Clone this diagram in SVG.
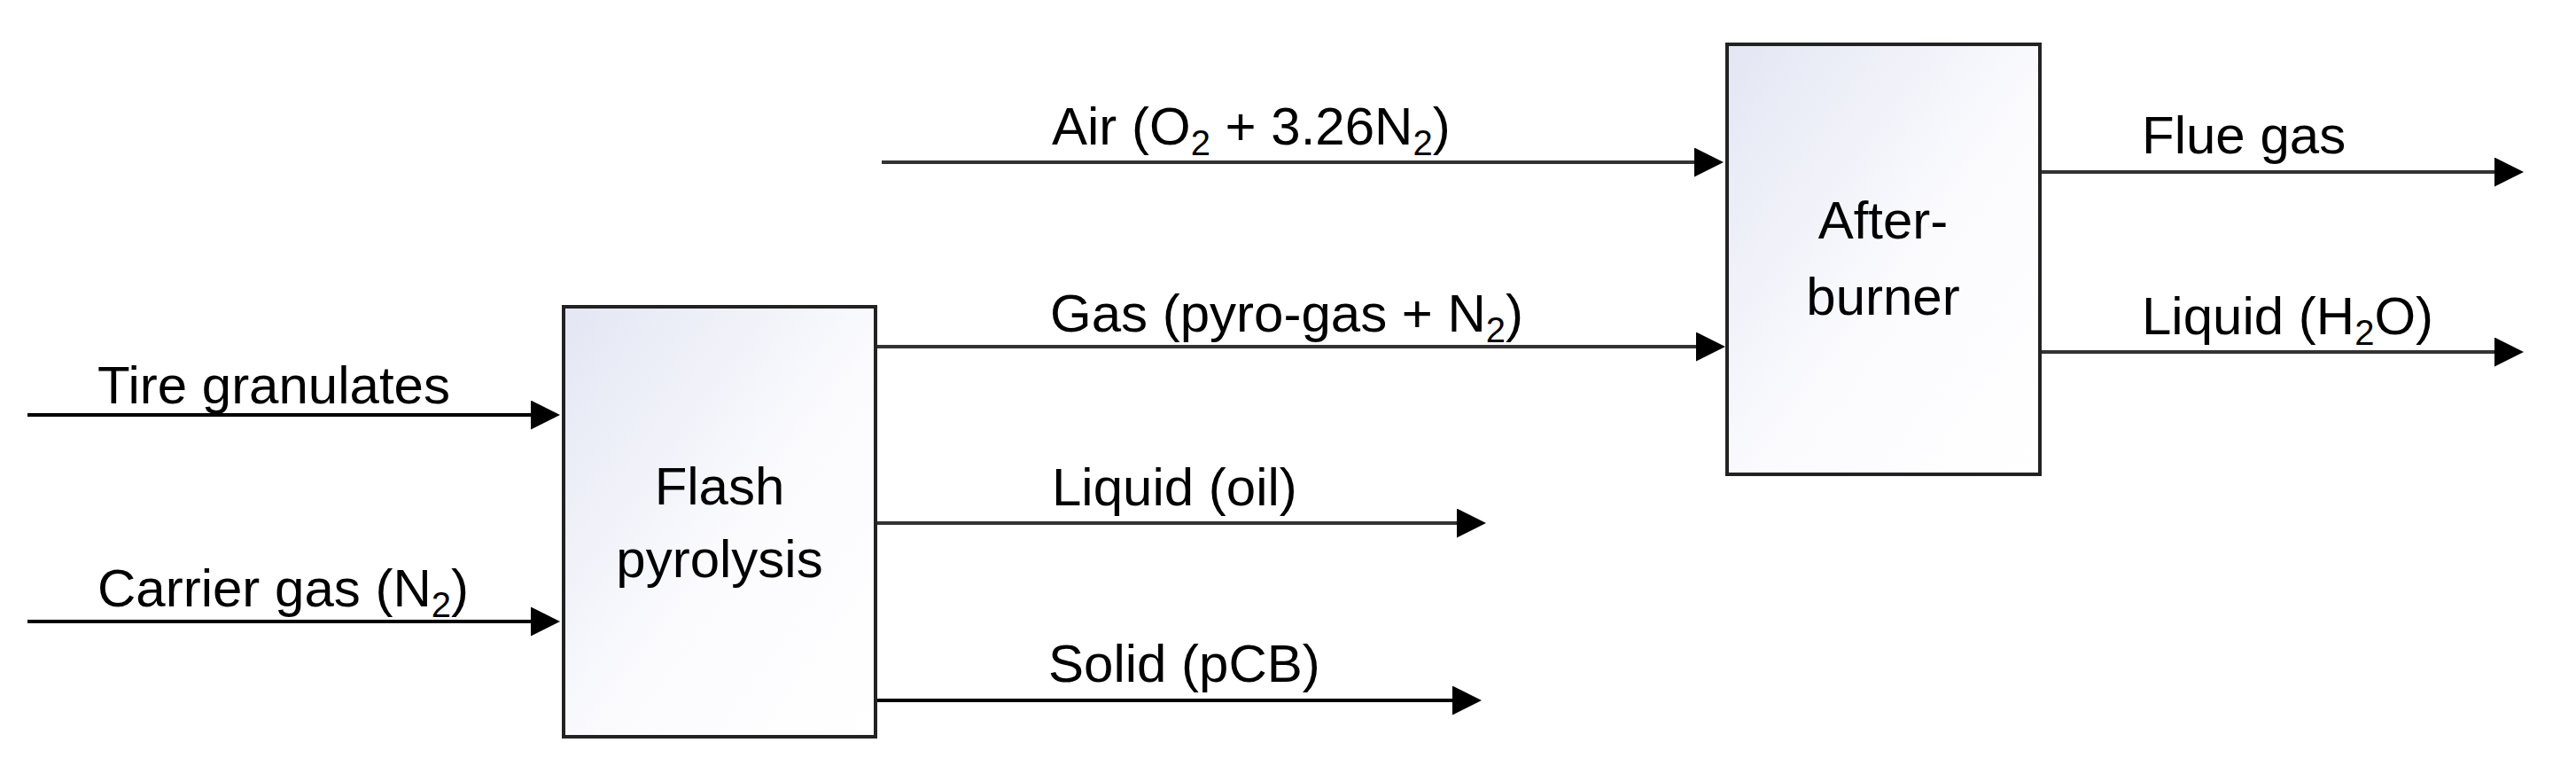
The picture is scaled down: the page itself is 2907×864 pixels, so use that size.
<svg xmlns="http://www.w3.org/2000/svg" width="2907" height="864" viewBox="0 0 2907 864">
  <style>
    .lbl { font-family: "Liberation Sans", Arial, sans-serif; font-size: 60px; fill: #000; }
    .mid { text-anchor: middle; }
    .sub { font-size: 40px; }
    .box { stroke: #222; stroke-width: 4; fill: url(#boxfill); }
    .flow { fill: none; stroke: #333; stroke-width: 4; marker-end: url(#arrow); }
    .flowk { fill: none; stroke: #000; stroke-width: 4; marker-end: url(#arrow); }
  </style>
  <defs>
    <linearGradient id="boxfill" x1="0" y1="0" x2="1" y2="1">
      <stop offset="0" stop-color="#e3e6f3"/>
      <stop offset="0.55" stop-color="#fbfbfe"/>
      <stop offset="1" stop-color="#ffffff"/>
    </linearGradient>
    <marker id="arrow" markerUnits="userSpaceOnUse" viewBox="0 0 33 33" refX="23" refY="16.5" markerWidth="33" markerHeight="33" orient="auto">
      <path d="M0,0 L33,16.5 L0,33 Z" fill="#000"/>
    </marker>
  </defs>
  <rect width="2907" height="864" fill="#fff"/>

  <g id="connectors">
    <line class="flowk" x1="31" y1="468" x2="622" y2="468"/>
    <line class="flowk" x1="31" y1="701" x2="622" y2="701"/>
    <line class="flow" x1="995" y1="183" x2="1935" y2="183"/>
    <line class="flow" x1="988" y1="391" x2="1937" y2="391"/>
    <line class="flow" x1="988" y1="590" x2="1667" y2="590"/>
    <line class="flowk" x1="988" y1="790" x2="1662" y2="790"/>
    <line class="flow" x1="2302" y1="194" x2="2838" y2="194"/>
    <line class="flow" x1="2302" y1="397" x2="2838" y2="397"/>
  </g>

  <g id="connector-labels">
    <text class="lbl" x="110" y="455">Tire granulates</text>
    <text class="lbl" x="110" y="684">Carrier gas (N<tspan class="sub" dy="12">2</tspan><tspan dy="-12">)</tspan></text>
    <text class="lbl" x="1187" y="163">Air (O<tspan class="sub" dy="12">2</tspan><tspan dy="-12"> + 3.26N</tspan><tspan class="sub" dy="12">2</tspan><tspan dy="-12">)</tspan></text>
    <text class="lbl" x="1185" y="374">Gas (pyro-gas + N<tspan class="sub" dy="12">2</tspan><tspan dy="-12">)</tspan></text>
    <text class="lbl" x="1187" y="570">Liquid (oil)</text>
    <text class="lbl" x="1183" y="769">Solid (pCB)</text>
    <text class="lbl" x="2417" y="173">Flue gas</text>
    <text class="lbl" x="2417" y="377">Liquid (H<tspan class="sub" dy="12">2</tspan><tspan dy="-12">O)</tspan></text>
  </g>

  <g id="flash-pyrolysis">
    <rect class="box" x="636" y="346" width="352" height="485"/>
    <text class="lbl mid" x="812" y="569">Flash</text>
    <text class="lbl mid" x="812" y="651">pyrolysis</text>
  </g>

  <g id="afterburner">
    <rect class="box" x="1949" y="50" width="353" height="485"/>
    <text class="lbl mid" x="2125" y="269">After-</text>
    <text class="lbl mid" x="2125" y="355">burner</text>
  </g>
</svg>
